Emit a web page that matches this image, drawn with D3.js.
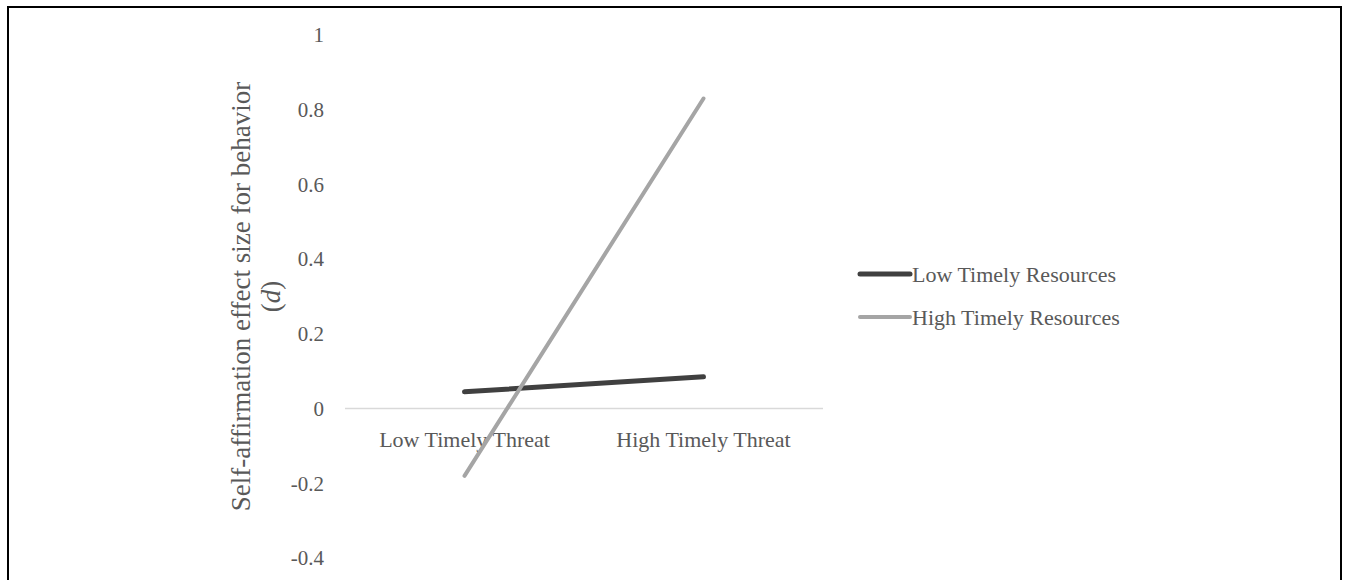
<!DOCTYPE html>
<html>
<head>
<meta charset="utf-8">
<script src="https://cdn.jsdelivr.net/npm/d3@7"></script>
<style>
  body { margin: 0; background: #fff; }
  svg text { font-family: "Liberation Serif", "Times New Roman", serif; }
</style>
</head>
<body>
<div id="chart"></div>
<script>
// categories on the x axis
const categories = ["Low Timely Threat", "High Timely Threat"];
// series names
const seriesNames = ["Low Timely Resources", "High Timely Resources"];
// effect sizes (d) per category
const lowResources = [0.045, 0.085];
const highResources = [-0.18, 0.83];
// y tick values
const yTicks = [-0.4, -0.2, 0, 0.2, 0.4, 0.6, 0.8, 1];

const W = 1345, H = 580;
const margin = {top: 35, left: 345, right: 522, bottom: 22};
const colors = ["#404040", "#a5a5a5"];
const widths = [5, 4];

const svg = d3.select("#chart").append("svg")
  .attr("width", W).attr("height", H);

// frame
svg.append("rect")
  .attr("x", 8).attr("y", 7)
  .attr("width", 1333).attr("height", 590)
  .attr("fill", "none").attr("stroke", "#000").attr("stroke-width", 2);

const x = d3.scaleBand()
  .domain(categories)
  .range([margin.left, W - margin.right]);

const y = d3.scaleLinear()
  .domain([-0.4, 1])
  .range([H - margin.bottom, margin.top]);

// y tick labels (no axis line)
svg.append("g")
  .selectAll("text")
  .data(yTicks)
  .enter()
  .append("text")
  .attr("x", 324)
  .attr("y", d => y(d))
  .attr("dy", "0.35em")
  .attr("text-anchor", "end")
  .attr("fill", "#595959")
  .attr("font-size", "21px")
  .text(d => String(d));

// zero line
svg.append("line")
  .attr("x1", x.range()[0]).attr("x2", x.range()[1])
  .attr("y1", y(0)).attr("y2", y(0))
  .attr("stroke", "#d9d9d9").attr("stroke-width", 1.5);

// category labels
svg.append("g")
  .selectAll("text")
  .data(categories)
  .enter()
  .append("text")
  .attr("x", d => x(d) + x.bandwidth() / 2)
  .attr("y", y(0) + 38)
  .attr("text-anchor", "middle")
  .attr("fill", "#595959")
  .attr("font-size", "22px")
  .text(d => d);

// y axis title
const yc = (y(1) + y(-0.4)) / 2;
const title = svg.append("text")
  .attr("transform", "translate(250," + yc + ") rotate(-90)")
  .attr("text-anchor", "middle")
  .attr("fill", "#595959")
  .attr("font-size", "27px");
title.append("tspan").attr("x", 0).attr("dy", 0)
  .text("Self-affirmation effect size for behavior");
title.append("tspan").attr("x", 0).attr("dy", "1.12em")
  .text("(");
title.append("tspan").attr("font-style", "italic").text("d");
title.append("tspan").text(")");

// lines
const line = d3.line()
  .x((d, i) => x(categories[i]) + x.bandwidth() / 2)
  .y(d => y(d));

const series = [lowResources, highResources];
svg.append("g")
  .selectAll("path")
  .data(series)
  .enter()
  .append("path")
  .attr("d", d => line(d))
  .attr("fill", "none")
  .attr("stroke", (d, i) => colors[i])
  .attr("stroke-width", (d, i) => widths[i])
  .attr("stroke-linecap", "round");

// legend
const legend = svg.append("g")
  .selectAll("g")
  .data(seriesNames)
  .enter()
  .append("g")
  .attr("transform", (d, i) => "translate(860," + (274 + i * 43) + ")");

legend.append("line")
  .attr("x1", 0).attr("x2", 50)
  .attr("stroke", (d, i) => colors[i])
  .attr("stroke-width", (d, i) => widths[i])
  .attr("stroke-linecap", "round");

legend.append("text")
  .attr("x", 52)
  .attr("dy", "0.35em")
  .attr("fill", "#595959")
  .attr("font-size", "22px")
  .text(d => d);
</script>
</body>
</html>
